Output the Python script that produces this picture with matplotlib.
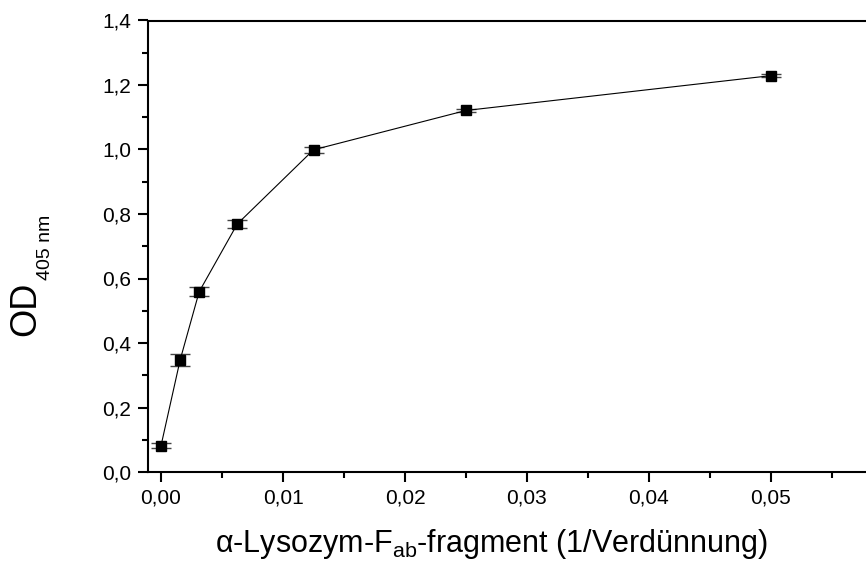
import matplotlib
matplotlib.use("Agg")
import matplotlib.pyplot as plt
from matplotlib.ticker import MultipleLocator, FuncFormatter

# dilution series (1/Verduennung) vs. OD at 405 nm
dilution = [0.0, 0.0015625, 0.003125, 0.00625, 0.0125, 0.025, 0.05]
od_405 = [0.082, 0.347, 0.559, 0.769, 0.999, 1.121, 1.229]
od_err = [0.007, 0.018, 0.014, 0.012, 0.010, 0.006, 0.005]

plt.rcParams['font.family'] = ['Liberation Sans', 'DejaVu Sans']
plt.rcParams['mathtext.fontset'] = 'custom'
plt.rcParams['mathtext.rm'] = 'Liberation Sans'
plt.rcParams['mathtext.it'] = 'Liberation Sans:italic'

fig = plt.figure(figsize=(8.66, 5.67), dpi=100)
# axes box runs past the right edge of the figure, as in the original
ax = fig.add_axes([148 / 866, 95 / 567, 744 / 866, 451.5 / 567])

ax.errorbar(dilution, od_405, yerr=od_err, color='black', marker='s',
            markersize=7, linewidth=0.8, ecolor='#444444', elinewidth=1,
            capsize=7, capthick=1)

ax.set_xlim(-0.00107, 0.05993)
ax.set_ylim(0, 1.4)

ax.xaxis.set_major_locator(MultipleLocator(0.01))
ax.xaxis.set_minor_locator(MultipleLocator(0.005))
ax.yaxis.set_major_locator(MultipleLocator(0.2))
ax.yaxis.set_minor_locator(MultipleLocator(0.1))

comma = lambda fmt: FuncFormatter(lambda v, p: format(v, fmt).replace('.', ','))
ax.xaxis.set_major_formatter(comma('.2f'))
ax.yaxis.set_major_formatter(comma('.1f'))

for s in ax.spines.values():
    s.set_linewidth(1.5)
ax.tick_params(which='major', direction='out', length=7, width=1.5,
               labelsize=15, pad=5)
ax.tick_params(which='minor', direction='out', length=4, width=1.5)
ax.tick_params(top=False, right=False)

fig.text(491 / 866, 15 / 567,
         r'α-Lysozym-F$_{\mathrm{ab}}$-fragment (1/Verdünnung)',
         ha='center', va='baseline', fontsize=22)
fig.text(26 / 866, 1 - 309 / 567, 'OD', rotation=90, ha='center',
         va='center', fontsize=26)
fig.text(45 / 866, 1 - 247 / 567, '405 nm', rotation=90, ha='center',
         va='center', fontsize=14)

fig.savefig('out.png', dpi=100)
